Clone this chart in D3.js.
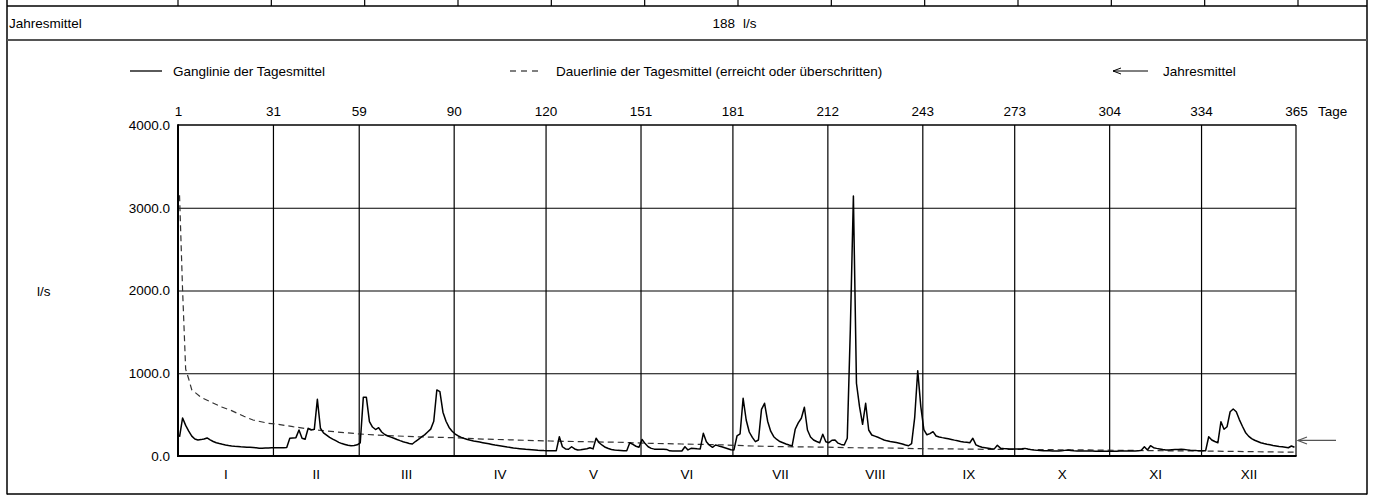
<!DOCTYPE html>
<html>
<head>
<meta charset="utf-8">
<script src="https://cdn.jsdelivr.net/npm/d3@7"></script>
<style>
body { margin: 0; background: #fff; }
svg { display: block; font-family: "Liberation Sans", Arial, sans-serif; font-size: 13.5px; }
</style>
</head>
<body>
<svg id="chart" width="1374" height="495"></svg>
<script>
// tick days on top (month ends), labels as printed
var dayTicks = [0, 31, 59, 90, 120, 151, 181, 212, 243, 273, 304, 334, 365];
var dayTickLabels = ["1", "31", "59", "90", "120", "151", "181", "212", "243", "273", "304", "334", "365"];
var months = ["I", "II", "III", "IV", "V", "VI", "VII", "VIII", "IX", "X", "XI", "XII"];
var yTicks = [0, 1000, 2000, 3000, 4000];
var jahresmittel = 188;

// Ganglinie der Tagesmittel (l/s), day 1..365
var tagesmittel = [
  // Jan
  230, 460, 370, 300, 240, 205, 193, 198, 205, 218, 195, 175, 160, 150, 141, 133, 127, 122, 118, 115,
  112, 110, 107, 105, 102, 99, 95, 93, 96, 98, 100,
  // Feb
  100, 100, 101, 100, 102, 214, 218, 222, 314, 214, 202, 335, 314, 322, 685, 335, 280, 252, 225, 204,
  185, 165, 150, 140, 130, 125, 128, 135,
  // Mar
  160, 709, 709, 415, 350, 320, 342, 290, 260, 242, 228, 215, 200, 186, 173, 162, 152, 145, 175, 200,
  230, 255, 290, 325, 420, 798, 777, 530, 420, 345, 300,
  // Apr
  265, 242, 225, 212, 200, 190, 182, 175, 168, 161, 154, 147, 140, 133, 127, 121, 115, 109, 104, 98,
  93, 89, 85, 81, 78, 75, 72, 69, 67, 65,
  // May
  64, 63, 63, 64, 233, 112, 85, 81, 112, 85, 73, 76, 82, 88, 100, 86, 214, 160, 130, 105,
  90, 78, 72, 68, 66, 64, 64, 160, 140, 118, 105,
  // Jun
  200, 150, 112, 92, 83, 81, 81, 81, 80, 62, 60, 60, 60, 60, 112, 73, 93, 90, 87, 85,
  274, 173, 130, 105, 133, 122, 112, 100, 88, 75,
  // Jul
  73, 242, 266, 697, 435, 290, 225, 173, 193, 564, 637, 420, 300, 233, 200, 175, 160, 145, 132, 121,
  323, 400, 456, 589, 314, 230, 193, 175, 161, 262, 173,
  // Aug
  161, 190, 193, 155, 140, 133, 214, 1530, 3142, 879, 596, 383, 637, 314, 254, 240, 226, 210, 193, 183,
  176, 170, 163, 155, 145, 132, 124, 150, 460, 1031, 600,
  // Sep
  320, 256, 270, 294, 242, 230, 222, 215, 208, 200, 192, 185, 176, 170, 165, 160, 214, 135, 118, 106,
  100, 94, 88, 86, 130, 95, 90, 88, 86, 84,
  // Oct
  84, 85, 88, 92, 84, 77, 72, 68, 65, 64, 62, 62, 61, 60, 60, 62, 68, 73, 66, 62,
  60, 60, 60, 60, 59, 59, 58, 58, 57, 57, 56,
  // Nov
  56, 57, 58, 59, 60, 60, 60, 60, 60, 62, 70, 112, 73, 124, 100, 92, 85, 78, 73, 74,
  76, 78, 80, 81, 78, 74, 70, 67, 65, 64,
  // Dec
  64, 64, 233, 193, 175, 161, 415, 323, 354, 535, 568, 535, 440, 360, 285, 240, 210, 190, 175, 160,
  150, 142, 135, 128, 122, 116, 111, 106, 100, 121, 105
];

// Dauerlinie der Tagesmittel
var dauerDays = [1, 2, 3, 4, 5, 6, 8, 11, 15, 18, 22, 25, 30, 33, 38, 44, 49, 55, 60, 65,
  72, 78, 85, 92, 100, 111, 122, 133, 144, 155, 165, 176, 188, 199, 210, 221, 232, 243, 254, 264,
  276, 298, 320, 336, 352, 365];
var dauerValues = [3150, 2000, 1050, 930, 800, 770, 710, 656, 589, 548, 480, 435, 395, 385, 354, 323, 302, 282, 266, 254,
  242, 233, 226, 220, 205, 193, 181, 173, 166, 153, 145, 137, 121, 112, 108, 100, 97, 88, 85, 81,
  79, 73, 64, 60, 52, 46];

var svg = d3.select('#chart');
var pLeft = 178, pRight = 1296, pTop = 125, pBottom = 456;

var x = d3.scaleLinear().domain([0, 365]).range([pLeft, pRight]);
var y = d3.scaleLinear().domain([0, 4000]).range([pBottom, pTop]);

// frame / table rows
function hline(x1, x2, yy, w, c) {
  svg.append('line').attr('x1', x1).attr('x2', x2).attr('y1', yy).attr('y2', yy)
    .attr('stroke', c || '#000').attr('stroke-width', w || 1);
}
function vline(xx, y1, y2, w, c) {
  svg.append('line').attr('x1', xx).attr('x2', xx).attr('y1', y1).attr('y2', y2)
    .attr('stroke', c || '#000').attr('stroke-width', w || 1);
}

vline(7, 0, 494.5, 1.5);
vline(1367, 0, 494.5, 1.5);
hline(7, 1367, 494, 1.5);
hline(7, 1367, 6, 1.5);
hline(7, 1367, 40, 2, '#555');

// cut-off table columns at the very top
d3.range(13).forEach(function(k) {
  vline(178 + k * (1120 / 12), 0, 6, 1.2);
});

svg.append('text').attr('x', 9).attr('y', 27.5).text('Jahresmittel');
svg.append('text').attr('x', 735).attr('y', 27.5).attr('text-anchor', 'end').text(jahresmittel);
svg.append('text').attr('x', 743).attr('y', 27.5).text('l/s');

// legend
var ly = 71;
hline(130, 162, ly, 1.3);
svg.append('text').attr('x', 173).attr('y', ly + 4.5).text('Ganglinie der Tagesmittel');
svg.append('line').attr('x1', 510).attr('x2', 542).attr('y1', ly).attr('y2', ly)
  .attr('stroke', '#000').attr('stroke-width', 1.1).attr('stroke-dasharray', '6,5');
svg.append('text').attr('x', 556).attr('y', ly + 4.5).text('Dauerlinie der Tagesmittel (erreicht oder überschritten)');
hline(1113, 1148, ly, 1);
svg.append('path').attr('d', 'M1121,' + (ly - 3) + 'L1113,' + ly + 'L1121,' + (ly + 3))
  .attr('fill', 'none').attr('stroke', '#000').attr('stroke-width', 1);
svg.append('text').attr('x', 1163).attr('y', ly + 4.5).text('Jahresmittel');

svg.append('text').attr('x', 37).attr('y', 296).text('l/s');

// grid
svg.append('g')
  .attr('transform', 'translate(0,' + pTop + ')')
  .call(d3.axisBottom(x).tickValues(dayTicks.slice(1, -1)).tickSize(pBottom - pTop).tickFormat(''))
  .call(function(g) { g.select('.domain').remove(); })
  .selectAll('line').attr('stroke', '#000').attr('stroke-width', 1.2);

svg.append('g')
  .attr('transform', 'translate(' + pLeft + ',0)')
  .call(d3.axisLeft(y).tickValues(yTicks.slice(1, -1)).tickSize(-(pRight - pLeft)).tickFormat(''))
  .call(function(g) { g.select('.domain').remove(); })
  .selectAll('line').attr('stroke', '#000').attr('stroke-width', 1.2);

// plot frame
hline(pLeft, pRight, pTop, 1.6);
vline(pRight, pTop, pBottom, 1.2);
vline(pLeft, pTop - 0.8, pBottom + 1, 2);
hline(pLeft - 1, pRight + 0.6, pBottom, 2.2);

// top day labels
var topAx = svg.append('g')
  .attr('transform', 'translate(0,' + pTop + ')')
  .call(d3.axisTop(x).tickValues(dayTicks).tickFormat(function(d, i) { return dayTickLabels[i]; })
    .tickSize(0).tickPadding(9.5));
topAx.select('.domain').remove();
svg.append('text').attr('x', 1318).attr('y', pTop - 9.5).text('Tage');

// y labels
var yAx = svg.append('g')
  .attr('transform', 'translate(' + pLeft + ',0)')
  .call(d3.axisLeft(y).tickValues(yTicks).tickFormat(d3.format('.1f')).tickSize(0).tickPadding(8));
yAx.select('.domain').remove();

// month labels
var mids = months.map(function(m, i) { return (dayTicks[i] + dayTicks[i + 1]) / 2; });
var mAx = svg.append('g')
  .attr('transform', 'translate(0,' + pBottom + ')')
  .call(d3.axisBottom(x).tickValues(mids).tickFormat(function(d, i) { return months[i]; })
    .tickSize(0).tickPadding(13));
mAx.select('.domain').remove();

svg.selectAll('.tick text').attr('fill', '#000')
  .style('font-family', '"Liberation Sans", Arial, sans-serif').style('font-size', '13.5px');

// Dauerlinie
var dauerLine = d3.line()
  .x(function(d, i) { return x(dauerDays[i] - 0.5); })
  .y(function(d) { return y(d); });
svg.append('path').datum(dauerValues)
  .attr('d', dauerLine)
  .attr('fill', 'none').attr('stroke', '#333').attr('stroke-width', 1.2)
  .attr('stroke-dasharray', '6,4');

// Ganglinie
var gangLine = d3.line()
  .x(function(d, i) { return x(i + 0.5); })
  .y(function(d) { return y(d); });
svg.append('path').datum(tagesmittel)
  .attr('d', gangLine)
  .attr('fill', 'none').attr('stroke', '#000').attr('stroke-width', 1.5)
  .attr('stroke-linejoin', 'round');

// Jahresmittel arrow on the right
var my = y(jahresmittel);
svg.append('line').attr('x1', pRight + 2).attr('x2', 1336).attr('y1', my).attr('y2', my)
  .attr('stroke', '#555').attr('stroke-width', 1.2);
svg.append('path').attr('d', 'M' + (pRight + 11) + ',' + (my - 3.5) + 'L' + (pRight + 2) + ',' + my + 'L' + (pRight + 11) + ',' + (my + 3.5))
  .attr('fill', 'none').attr('stroke', '#555').attr('stroke-width', 1.2);
</script>
</body>
</html>
